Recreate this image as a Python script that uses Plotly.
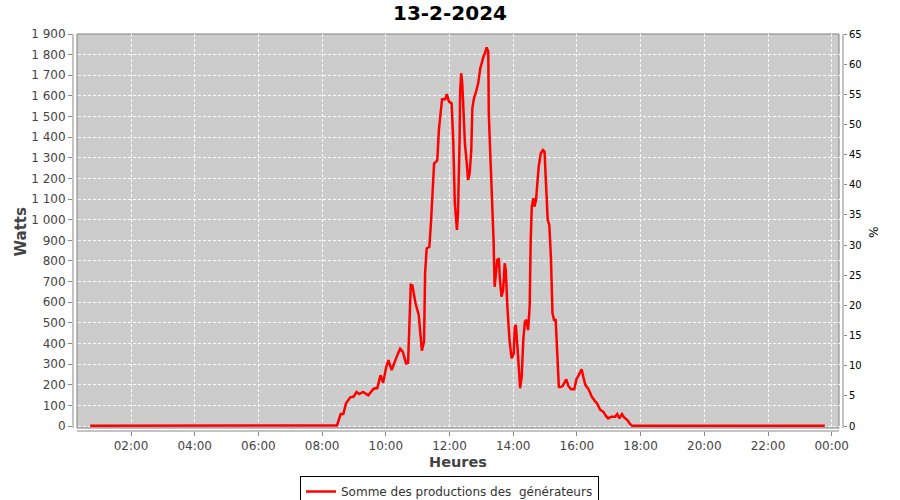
import plotly.graph_objects as go

DAY = "2024-02-13"

times = [
    "00:43", "08:28", "08:35", "08:40", "08:45", "08:53", "08:59", "09:05", "09:10", "09:17",
    "09:27", "09:37", "09:44", "09:50", "09:55", "10:01", "10:05", "10:11", "10:20", "10:27",
    "10:32", "10:38", "10:42", "10:47", "10:50", "10:56", "11:02", "11:08", "11:12", "11:14",
    "11:17", "11:22", "11:25", "11:28", "11:31", "11:35", "11:37", "11:40", "11:42", "11:46",
    "11:52", "11:55", "11:59", "12:04", "12:07", "12:10", "12:14", "12:16", "12:19", "12:20",
    "12:22", "12:24", "12:26", "12:29", "12:32", "12:35", "12:38", "12:41", "12:43", "12:46",
    "12:50", "12:54", "12:58", "13:01", "13:04", "13:07", "13:10", "13:13", "13:14", "13:17",
    "13:20", "13:23", "13:25", "13:28", "13:30", "13:33", "13:35", "13:38", "13:41", "13:44",
    "13:46", "13:49", "13:53", "13:57", "14:01", "14:03", "14:05", "14:08", "14:11", "14:13",
    "14:16", "14:19", "14:22", "14:25", "14:28", "14:31", "14:33", "14:35", "14:38", "14:40",
    "14:43", "14:46", "14:48", "14:52", "14:56", "14:59", "15:02", "15:05", "15:08", "15:11",
    "15:14", "15:17", "15:20", "15:23", "15:26", "15:28", "15:33", "15:40", "15:44", "15:49",
    "15:55", "15:59", "16:05", "16:09", "16:12", "16:16", "16:22", "16:28", "16:34", "16:38",
    "16:44", "16:50", "16:55", "16:59", "17:05", "17:12", "17:16", "17:20", "17:25", "17:29",
    "17:35", "17:40", "17:44", "23:47",
]

watts = [
    2, 3, 58, 58, 110, 139, 142, 165, 155, 165,
    149, 181, 184, 246, 210, 288, 320, 271, 333, 375,
    360, 304, 307, 685, 682, 595, 538, 365, 409, 740,
    861, 869, 982, 1160, 1273, 1281, 1289, 1435, 1499, 1584,
    1584, 1609, 1572, 1564, 1386, 1080, 950, 1031, 1386, 1620,
    1710, 1661, 1548, 1370, 1289, 1192, 1225, 1338, 1540, 1588,
    1620, 1661, 1734, 1766, 1790, 1809, 1835, 1814, 1516, 1305,
    1120, 902, 675, 740, 805, 813, 708, 627, 659, 789,
    756, 578, 417, 328, 352, 481, 490, 384, 247, 183,
    239, 417, 506, 514, 465, 578, 902, 1063, 1104, 1063,
    1095, 1192, 1257, 1322, 1338, 1330, 1192, 999, 974, 821,
    546, 514, 514, 336, 190, 188, 194, 226, 194, 178,
    178, 226, 252, 275, 239, 199, 178, 142, 121, 110,
    78, 69, 48, 37, 45, 45, 58, 37, 58, 42,
    29, 10, 2, 2,
]

series_name = "Somme des productions des  générateurs"
chart_title = "13-2-2024"
y_title = "Watts"
x_title = "Heures"
y2_title = "%"

x_vals = [f"{DAY} {t}" for t in times]

fig = go.Figure()
fig.add_trace(go.Scatter(
    x=x_vals, y=watts, mode="lines", name=series_name,
    line=dict(color="#ff0000", width=2.5),
))
fig.add_trace(go.Scatter(x=[None], y=[None], yaxis="y2", showlegend=False, hoverinfo="skip"))

PW, PH = 770, 397
gx, gy = 4 / PW, 3 / PH
grid = dict(showgrid=True, gridcolor="rgba(255,255,255,0.9)", griddash="3px,2px", gridwidth=1,
            zeroline=False)

fig.update_layout(
    width=900, height=500,
    margin=dict(l=73, r=57, t=34, b=69, autoexpand=False),
    paper_bgcolor="white", plot_bgcolor="white",
    font=dict(family="DejaVu Sans", size=12, color="#444444"),
    separators=", ",
    title=dict(text=f"<b>{chart_title}</b>", x=0.5, xref="container", xanchor="center",
               y=1 - 13 / 500, yref="container", yanchor="middle",
               font=dict(family="DejaVu Sans", size=20, color="black")),
    xaxis=dict(type="date", range=["2024-02-13 00:10:42", "2024-02-14 00:21:18"],
               tick0="2024-02-13 00:00", dtick=7200000, tickformat="%H:%M",
               ticks="outside", ticklen=4, tickcolor="#888888", showline=False,
               tickfont=dict(size=12, color="#444444"), automargin=False, **grid),
    yaxis=dict(range=[-24, 1900], tick0=0, dtick=100, separatethousands=True,
               ticks="outside", ticklen=4, tickcolor="#888888", showline=False,
               tickfont=dict(size=12, color="#444444"), automargin=False, **grid),
    yaxis2=dict(overlaying="y", side="right", range=[-24 * 65 / 1900, 65], tick0=0, dtick=5,
                ticks="outside", ticklen=3, tickcolor="#888888", showline=False, showgrid=False,
                zeroline=False, tickfont=dict(size=10, color="black"), automargin=False),
    showlegend=True,
    legend=dict(orientation="h", x=449.5 / 900, xref="container", xanchor="center",
                y=(500 - 476) / 500, yref="container", yanchor="top",
                bordercolor="black", borderwidth=1, bgcolor="white",
                font=dict(size=12, color="#333333"), itemwidth=30),
    shapes=[
        dict(type="rect", xref="paper", yref="paper", x0=gx, x1=1 - gx, y0=gy, y1=1,
             fillcolor="#cccccc", line=dict(color="#808080", width=1), layer="below"),
        dict(type="line", xref="paper", yref="paper", x0=0, x1=0, y0=gy, y1=1,
             line=dict(color="#888888", width=1)),
        dict(type="line", xref="paper", yref="paper", x0=1, x1=1, y0=gy, y1=1,
             line=dict(color="#888888", width=1)),
        dict(type="line", xref="paper", yref="paper", x0=gx, x1=1 - gx, y0=0, y1=0,
             line=dict(color="#888888", width=1)),
    ],
    annotations=[
        dict(text=f"<b>{y_title}</b>", xref="paper", yref="paper", x=-53 / PW, y=0.5,
             textangle=-90, showarrow=False, xanchor="center", yanchor="middle",
             font=dict(size=15, color="#444444")),
        dict(text=f"<b>{x_title}</b>", xref="paper", yref="paper", x=(458 - 73) / PW, y=-31 / PH,
             showarrow=False, xanchor="center", yanchor="middle",
             font=dict(size=14.5, color="#444444")),
        dict(text=y2_title, xref="paper", yref="paper", x=1 + 30 / PW, y=0.5,
             textangle=90, showarrow=False, xanchor="center", yanchor="middle",
             font=dict(size=12, color="black")),
    ],
)

fig.write_html("out.html", config={"displayModeBar": False},
               post_script="document.body.style.margin='0';")
